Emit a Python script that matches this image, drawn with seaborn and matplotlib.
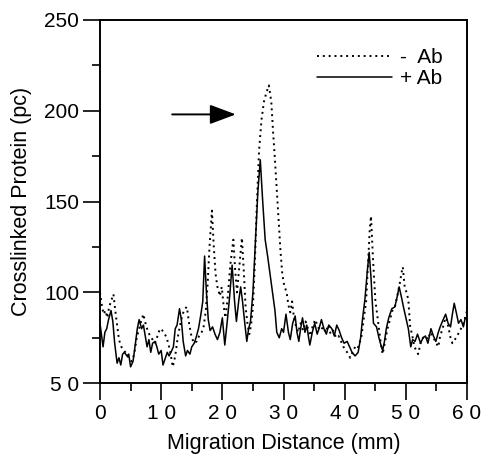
import numpy as np
import pandas as pd
import matplotlib
matplotlib.use("Agg")
import matplotlib.pyplot as plt
import seaborn as sns

# + Ab (solid trace)
plus_x = [0.0, 0.3, 0.5, 0.8, 1.1, 1.4, 1.8, 2.1, 2.4, 2.8, 3.1, 3.4, 3.7, 4.0, 4.4, 4.7,
          5.0, 5.4, 5.8, 6.1, 6.4, 6.8, 7.1, 7.4, 7.7, 8.0, 8.3, 8.6, 9.0, 9.3, 9.6, 10.0,
          10.3, 10.6, 11.0, 11.3, 11.6, 12.0, 12.3, 12.6, 13.0, 13.3, 13.6, 14.0, 14.3, 14.7,
          15.0, 15.4, 15.7, 16.1, 16.5, 16.8, 17.1, 17.4, 17.7, 18.0, 18.4, 18.8, 19.2, 19.6,
          20.0, 20.4, 20.8, 21.2, 21.6, 22.0, 22.3, 22.7, 23.0, 23.3, 23.7, 24.0, 24.3, 24.6,
          25.0, 25.4, 25.8, 26.2, 26.6, 27.0, 27.4, 27.8, 28.2, 28.6, 28.9, 29.3, 29.7, 30.0,
          30.4, 30.8, 31.1, 31.5, 31.9, 32.2, 32.5, 32.8, 33.1, 33.5, 33.8, 34.1, 34.3, 34.7,
          35.1, 35.5, 35.8, 36.2, 36.6, 37.0, 37.4, 37.9, 38.3, 38.7, 39.1, 39.5, 39.9, 40.4,
          40.8, 41.2, 41.7, 42.2, 42.6, 42.9, 43.3, 43.7, 44.0, 44.3, 44.7, 45.2, 45.6, 46.0,
          46.2, 46.5, 46.8, 47.2, 47.7, 48.2, 48.6, 48.9, 49.3, 49.6, 50.0, 50.4, 50.8, 51.1,
          51.5, 51.9, 52.4, 52.8, 53.2, 53.6, 54.1, 54.5, 54.9, 55.3, 55.6, 56.1, 56.5, 56.9,
          57.3, 57.6, 57.9, 58.3, 58.6, 59.0, 59.4, 59.7, 60.0]
plus_y = [83, 75, 70, 78, 80, 85, 90, 84, 72, 61, 64, 60, 66, 67, 65, 66,
          59, 62, 72, 80, 85, 80, 82, 76, 70, 74, 67, 72, 73, 70, 66, 68,
          60, 63, 67, 65, 67, 70, 80, 82, 91, 85, 73, 65, 68, 66,
          70, 72, 75, 80, 88, 95, 120, 100, 85, 79, 81, 77, 74, 78,
          86, 71, 84, 98, 115, 95, 84, 96, 103, 95, 82, 73, 80, 84,
          100, 128, 155, 173, 150, 129, 120, 110, 100, 90, 78, 75, 80, 78,
          88, 78, 74, 83, 87, 78, 73, 80, 86, 78, 82, 75, 71, 78,
          83, 77, 80, 85, 80, 77, 82, 80, 76, 82, 79, 75, 72, 73,
          70, 67, 65, 67, 75, 85, 96, 112, 122, 108, 83, 81, 75, 70,
          68, 73, 80, 86, 91, 92, 98, 103, 97, 92, 86, 80, 70, 74,
          73, 77, 72, 75, 76, 72, 80, 76, 73, 78, 81, 85, 88, 83,
          81, 88, 94, 88, 83, 85, 81, 86, 85]

# - Ab (dotted trace)
minus_x = [0.0, 0.3, 0.6, 0.9, 1.2, 1.5, 1.9, 2.2, 2.5, 2.8, 3.1, 3.5, 3.9, 4.4, 4.8, 5.2,
           5.6, 6.0, 6.4, 6.8, 7.1, 7.5, 7.9, 8.2, 8.6, 9.0, 9.4, 9.8, 10.2, 10.6, 10.9, 11.3,
           11.6, 11.9, 12.3, 12.7, 13.1, 13.5, 13.9, 14.2, 14.6, 15.0, 15.4, 15.8, 16.2, 16.6,
           16.9, 17.3, 17.6, 17.9, 18.3, 18.6, 18.9, 19.2, 19.6, 19.9, 20.2, 20.5, 20.9, 21.3,
           21.8, 22.1, 22.4, 22.8, 23.2, 23.5, 23.8, 24.1, 24.4, 24.7, 25.0, 25.3, 25.6, 26.0,
           26.4, 26.8, 27.2, 27.6, 28.0, 28.3, 28.6, 28.9, 29.2, 29.5, 29.8, 30.1, 30.5, 30.8,
           31.1, 31.4, 31.7, 32.0, 32.4, 32.8, 33.2, 33.6, 34.0, 34.4, 34.8, 35.2, 35.6, 36.0,
           36.5, 36.9, 37.3, 37.7, 38.1, 38.6, 39.0, 39.4, 39.8, 40.2, 40.6, 40.9, 41.3, 41.7,
           42.1, 42.4, 42.7, 43.1, 43.5, 43.8, 44.1, 44.3, 44.6, 45.0, 45.3, 45.6, 45.9, 46.2,
           46.6, 47.0, 47.4, 47.8, 48.2, 48.6, 49.0, 49.3, 49.5, 49.8, 50.1, 50.4, 50.7, 51.0,
           51.4, 51.7, 52.0, 52.4, 52.8, 53.2, 53.6, 54.0, 54.4, 54.8, 55.3, 55.6, 56.0, 56.3,
           56.6, 57.0, 57.3, 57.6, 58.0, 58.4, 58.8, 59.2, 59.6, 60.0]
minus_y = [100, 93, 88, 90, 86, 92, 96, 99, 90, 82, 74, 70, 68, 66, 63, 62,
           66, 75, 80, 85, 88, 82, 78, 76, 74, 72, 76, 80, 79, 77, 75, 70,
           65, 59, 65, 75, 82, 88, 91, 92, 82, 75, 72, 73, 76, 78,
           80, 90, 105, 125, 145, 125, 110, 103, 98, 103, 93, 86, 98, 115,
           129, 112, 100, 115, 130, 112, 92, 83, 77, 82, 92, 115, 145, 178,
           195, 205, 210, 214, 205, 188, 173, 156, 138, 123, 110, 104, 100, 93,
           89, 95, 86, 82, 78, 83, 79, 84, 80, 76, 82, 85, 81, 79,
           81, 78, 82, 77, 79, 75, 76, 73, 70, 68, 66, 64, 67, 70,
           69, 72, 75, 85, 95, 115, 135, 142, 120, 96, 88, 80, 72, 66,
           73, 80, 85, 90, 92, 98, 105, 111, 114, 103, 100, 96, 81, 77,
           70, 68, 66, 72, 75, 76, 74, 78, 76, 73, 70, 76, 80, 84,
           86, 80, 75, 72, 74, 76, 79, 81, 85, 90]

x_ticks = [0, 10, 20, 30, 40, 50, 60]
x_tick_labels = ["0", "1 0", "2 0", "3 0", "4 0", "5 0", "6 0"]
y_ticks = [50, 100, 150, 200, 250]
y_tick_labels = ["5 0", "100", "150", "200", "250"]

sns.set_style("ticks", {"axes.edgecolor": "black", "text.color": "black",
                        "axes.labelcolor": "black", "xtick.color": "black",
                        "ytick.color": "black"})
plt.rcParams["font.family"] = ["Liberation Sans", "DejaVu Sans"]

fig = plt.figure(figsize=(4.83, 4.54), dpi=100)
ax = fig.add_axes([0.207, 0.156, 0.760, 0.800])

sns.lineplot(x=minus_x, y=minus_y, ax=ax, color="black", linewidth=1.4,
             linestyle=(0, (1, 2)), label="-  Ab")
sns.lineplot(x=plus_x, y=plus_y, ax=ax, color="black", linewidth=1.1,
             label="+ Ab")

ax.annotate("", xy=(22.2, 198), xytext=(11.8, 198),
            arrowprops=dict(arrowstyle="-|>,head_length=0.8,head_width=0.3",
                            color="black", lw=1.4, mutation_scale=20,
                            shrinkA=0, shrinkB=0))

ax.set_xlim(0, 60)
ax.set_ylim(50, 250)
ax.set_xticks(x_ticks)
ax.set_xticklabels(x_tick_labels, fontsize=15)
ax.set_yticks(y_ticks)
ax.set_yticklabels(y_tick_labels, fontsize=15)
ax.set_xticks(np.arange(5, 60, 10), minor=True)
ax.set_yticks([75, 125, 175, 225], minor=True)
ax.tick_params(which="major", direction="out", length=12, width=1.2, pad=3)
ax.tick_params(which="minor", direction="out", length=6, width=1.2)
for s in ax.spines.values():
    s.set_linewidth(1.4)

ax.set_xlabel("Migration Distance (mm)", fontsize=15.5, labelpad=7)
ax.set_ylabel("Crosslinked Protein (pc)", fontsize=15.5, labelpad=9)

ax.legend(frameon=False, loc="upper right", bbox_to_anchor=(0.985, 0.975),
          fontsize=15, handlelength=3.6, handletextpad=0.4, labelspacing=0.1)

fig.savefig("out.png", dpi=100)
